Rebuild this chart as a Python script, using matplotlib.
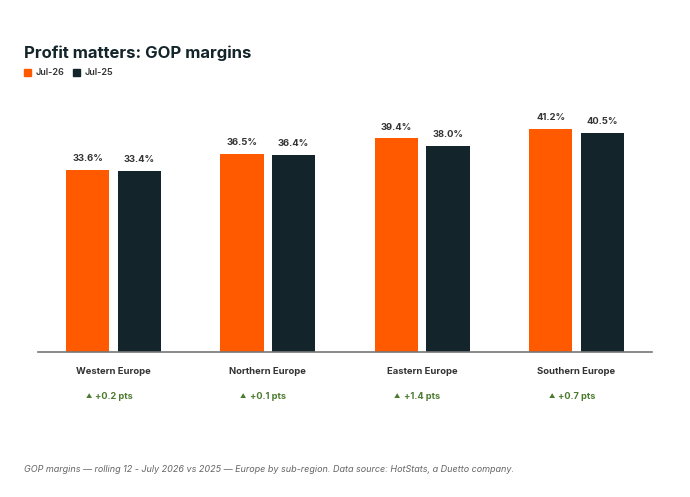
import numpy as np
import matplotlib
matplotlib.use("Agg")
import matplotlib.pyplot as plt

plt.rcParams['font.family'] = ['Inter', 'DejaVu Sans']

regions = ["Western Europe", "Northern Europe", "Eastern Europe", "Southern Europe"]
jul26 = [33.6, 36.5, 39.4, 41.2]
jul25 = [33.4, 36.4, 38.0, 40.5]
changes = ["+0.2 pts", "+0.1 pts", "+1.4 pts", "+0.7 pts"]

ORANGE = "#FF5A00"
DARK = "#13242A"
GREEN = "#4C7A2E"


def main():
	fig = plt.figure(figsize=(6.9, 4.97), dpi=100)
	ax = fig.add_axes([0.055, 0.2918, 0.89, 0.507])

	x = np.arange(len(regions))
	w = 0.28
	off = 0.167
	ax.bar(x - off, jul26, w, color=ORANGE)
	ax.bar(x + off, jul25, w, color=DARK)

	for i in range(len(regions)):
		ax.annotate(f"{jul26[i]:.1f}%", (x[i] - off, jul26[i]), xytext=(0, 5), textcoords="offset points",
			ha="center", va="bottom", fontsize=6.8, fontweight="bold", color="#333333")
		ax.annotate(f"{jul25[i]:.1f}%", (x[i] + off, jul25[i]), xytext=(0, 5), textcoords="offset points",
			ha="center", va="bottom", fontsize=6.8, fontweight="bold", color="#333333")

	ax.set_xlim(-0.49, 3.49)
	ax.set_ylim(0, 46.5)
	ax.set_yticks([])
	ax.set_xticks(x)
	ax.set_xticklabels(regions, fontsize=6.8, fontweight="bold", color="#333333")
	ax.tick_params(axis="x", length=0, pad=11)
	for s in ["top", "right", "left"]:
		ax.spines[s].set_visible(False)
	ax.spines["bottom"].set_color("#777777")
	ax.spines["bottom"].set_linewidth(1.2)

	for i in range(len(regions)):
		ax.annotate("\u25B2", (x[i], 0), xytext=(-18, -32), textcoords="offset points",
			ha="center", va="center", fontsize=4.5, color=GREEN)
		ax.annotate(changes[i], (x[i], 0), xytext=(-13, -32), textcoords="offset points",
			ha="left", va="center", fontsize=6.6, fontweight="bold", color=GREEN)

	fig.text(24 / 690, 1 - 53 / 497, "Profit matters: GOP margins", fontsize=12, fontweight="bold",
		color="#13242A", va="center")
	fig.patches.append(plt.Rectangle((24 / 690, 1 - 76 / 497), 7 / 690, 7 / 497, transform=fig.transFigure,
		color=ORANGE))
	fig.text(36 / 690, 1 - 72.5 / 497, "Jul-26", fontsize=6.5, fontweight="semibold", color="#333333", va="center")
	fig.patches.append(plt.Rectangle((73 / 690, 1 - 76 / 497), 7 / 690, 7 / 497, transform=fig.transFigure,
		color=DARK))
	fig.text(85 / 690, 1 - 72.5 / 497, "Jul-25", fontsize=6.5, fontweight="semibold", color="#333333", va="center")

	fig.text(24 / 690, 1 - 469 / 497,
		"GOP margins \u2014 rolling 12 - July 2026 vs 2025 \u2014 Europe by sub-region. Data source: HotStats, a Duetto company.",
		fontsize=6.5, style="italic", color="#666666", va="center")

	fig.savefig("out.png", dpi=100)


if __name__ == "__main__":
	main()
